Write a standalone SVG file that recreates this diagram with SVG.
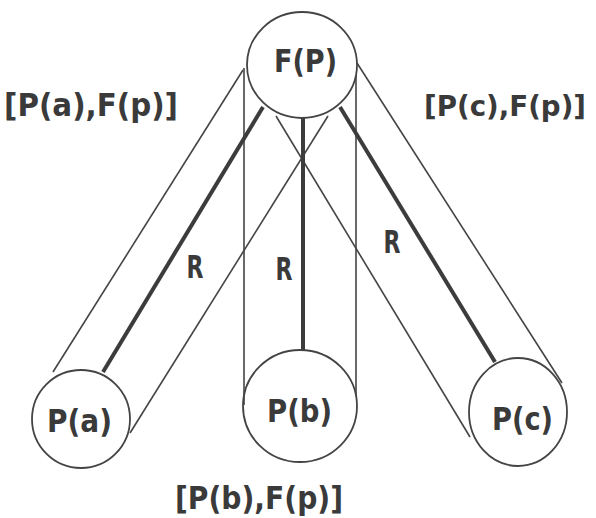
<svg xmlns="http://www.w3.org/2000/svg" width="596" height="518" viewBox="0 0 596 518">
<style>
.node{fill:none;stroke:#444;stroke-width:1.8}
.thin{stroke:#444;stroke-width:1.6;fill:none}
.thick{stroke:#3c3c3c;stroke-width:4;fill:none}
text{font-family:"DejaVu Sans","Liberation Sans",sans-serif;font-weight:bold;fill:#3a3a3a;font-size:32px}
</style>
<rect width="596" height="518" fill="#fff"/>
<g id="connectors">
<line class="thin" x1="243" y1="70" x2="53" y2="372"/>
<line class="thin" x1="328" y1="116" x2="130" y2="433"/>
<line class="thin" x1="244" y1="68" x2="244" y2="405"/>
<line class="thin" x1="356" y1="62" x2="356" y2="396"/>
<line class="thin" x1="357" y1="63" x2="562" y2="383"/>
<line class="thin" x1="276" y1="116" x2="470" y2="437"/>
<line class="thick" x1="263" y1="107" x2="103" y2="372"/>
<line class="thick" x1="303" y1="118" x2="303" y2="351"/>
<line class="thick" x1="340" y1="107" x2="495" y2="362"/>
<text x="195" y="278" text-anchor="middle" textLength="17" lengthAdjust="spacingAndGlyphs">R</text>
<text x="284" y="280" text-anchor="middle" textLength="17" lengthAdjust="spacingAndGlyphs">R</text>
<text x="392" y="253" text-anchor="middle" textLength="17" lengthAdjust="spacingAndGlyphs">R</text>
</g>
<g id="FP">
<ellipse class="node" cx="302" cy="65" rx="55" ry="53" style="fill:#fff"/>
<text x="274" y="72" textLength="63" lengthAdjust="spacingAndGlyphs">F(P)</text>
</g>
<g id="Pa">
<circle class="node" cx="81" cy="419" r="49"/>
<text x="47" y="432" textLength="65" lengthAdjust="spacingAndGlyphs">P(a)</text>
</g>
<g id="Pb">
<ellipse class="node" cx="300" cy="406" rx="57" ry="56"/>
<text x="267" y="422" textLength="65" lengthAdjust="spacingAndGlyphs">P(b)</text>
</g>
<g id="Pc">
<ellipse class="node" cx="518" cy="412" rx="49" ry="54"/>
<text x="492" y="430" textLength="61" lengthAdjust="spacingAndGlyphs">P(c)</text>
</g>
<g id="labels">
<text x="4" y="116" textLength="174" lengthAdjust="spacingAndGlyphs">[P(a),F(p)]</text>
<text x="424" y="116" style="font-size:28px" textLength="162" lengthAdjust="spacingAndGlyphs">[P(c),F(p)]</text>
<text x="175" y="509" textLength="168" lengthAdjust="spacingAndGlyphs">[P(b),F(p)]</text>
</g>
</svg>
